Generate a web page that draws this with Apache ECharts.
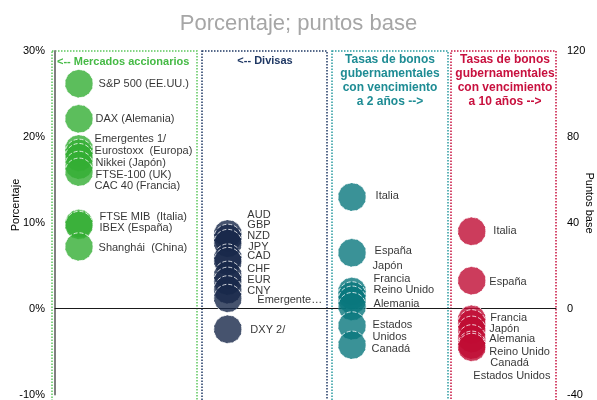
<!DOCTYPE html>
<html>
<head>
<meta charset="utf-8">
<title>Mercados</title>
<script src="https://cdn.jsdelivr.net/npm/echarts@6/dist/echarts.min.js"></script>
<style>
  html, body { margin: 0; padding: 0; background: #fff; }
  #main { width: 597px; height: 400px; }
</style>
</head>
<body>
<div id="main"></div>
<script>
// Mercados accionarios (%, eje izquierdo)
var stockNames = ['S&P 500 (EE.UU.)', 'DAX (Alemania)', 'Emergentes 1/', 'Eurostoxx  (Europa)', 'Nikkei (Japón)',
  'FTSE-100 (UK)', 'CAC 40 (Francia)', 'FTSE MIB  (Italia)', 'IBEX (España)', 'Shanghái  (China)'];
var stockValues = [26.2, 22.1, 18.6, 18.1, 17.6, 16.7, 15.9, 9.9, 9.7, 7.2];

// Divisas (%, eje izquierdo)
var fxNames = ['AUD', 'GBP', 'NZD', 'JPY', 'CAD', 'CHF', 'EUR', 'CNY', 'Emergente\u2026', 'DXY 2/'];
var fxValues = [8.7, 8.2, 7.6, 5.9, 5.5, 3.9, 3.2, 2.2, 1.2, -2.4];

// Bonos a 2 años (pb, eje derecho)
var bond2Names = ['Italia', 'España', 'Japón', 'Francia', 'Reino Unido', 'Alemania', 'Estados\nUnidos', 'Canadá'];
var bond2Values = [52, 26, 8, 6, 4, 1, -8, -17];

// Bonos a 10 años (pb, eje derecho)
var bond10Names = ['Italia', 'España', 'Francia', 'Japón', 'Alemania', 'Reino Unido', 'Canadá', 'Estados Unidos'];
var bond10Values = [36, 13, -5, -7, -10, -14, -17, -18];

// posiciones de las columnas y desplazamiento de etiquetas (solo maquetación)
var groupX = [4.8, 34.5, 59.3, 83.2];
var stockDx = [0, -3, -4, -4, -3, -3, -4, 1, 1, 0];
var stockDy = [0, 0, -10, -2, 5, 10, 14, -7, 3, 1];
var fxDx = [0, 0, 0, 1, 0, 0, 0, 0, 10, 3];
var fxDy = [-19, -13.5, -7.6, -11, -5, -6.5, -1.5, 1, 2, 1];
var b2Dx = [4, 3, 1, 2, 2, 2, 1, 0];
var b2Dy = [-1, -2, -25, -17, -10, -3, 5, 4];
var b10Dx = [2, -2, -1, -2, -2, -2, -1, -18];
var b10Dy = [0, 1, -1, 5, 8.5, 13, 18, 29];

var font = 'Liberation Sans, Arial, sans-serif';

function build(names, values, gx, dx, dy) {
  return names.map(function (n, i) {
    return { name: n, value: [gx, values[i]], label: { offset: [dx[i], dy[i]] } };
  });
}

function bubbles(data, color, yIdx) {
  return {
    type: 'scatter',
    yAxisIndex: yIdx,
    symbolSize: 28,
    data: data,
    itemStyle: { color: color, opacity: 0.8, borderColor: '#fff', borderWidth: 1, borderType: 'dashed' },
    label: {
      show: true, position: 'right', distance: 5, formatter: '{b}',
      color: '#000', fontSize: 11, lineHeight: 12, fontFamily: font
    },
    emphasis: { disabled: true }
  };
}

function box(x, w, color) {
  return {
    type: 'rect', z: 0, silent: true,
    shape: { x: x, y: 51, width: w, height: 360 },
    style: { fill: 'none', stroke: color, lineWidth: 1.5, lineDash: [1.5, 1.5] }
  };
}

function header(x, y, txt, color, size, align) {
  return {
    type: 'text', z: 5, x: x, y: y, silent: true,
    style: {
      text: txt, fill: color, font: 'bold ' + size + 'px ' + font,
      align: align, verticalAlign: 'top', lineHeight: 14
    }
  };
}

var chart = echarts.init(document.getElementById('main'));
chart.setOption({
  animation: false,
  backgroundColor: '#fff',
  title: {
    text: 'Porcentaje; puntos base', left: 'center', top: 8,
    textStyle: { color: '#A6A6A6', fontSize: 22, fontWeight: 'normal', fontFamily: font }
  },
  grid: { left: 55, right: 41, top: 51, bottom: 5 },
  xAxis: {
    type: 'value', min: 0, max: 100,
    axisLine: { show: true, onZero: true, lineStyle: { color: '#1a1a1a', width: 1 } },
    axisTick: { show: false }, axisLabel: { show: false }, splitLine: { show: false }
  },
  yAxis: [{
    type: 'value', min: -10, max: 30, interval: 10,
    axisLine: { show: true, lineStyle: { color: '#808080', width: 2 } },
    axisTick: { show: false }, splitLine: { show: false },
    axisLabel: { formatter: '{value}%', color: '#000', fontSize: 11, fontFamily: font, margin: 10 }
  }, {
    type: 'value', min: -40, max: 120, interval: 40, position: 'right',
    axisLine: { show: false }, axisTick: { show: false }, splitLine: { show: false },
    axisLabel: { color: '#000', fontSize: 11, fontFamily: font, margin: 11 }
  }],
  graphic: [
    box(52, 145, '#5CC65C'),
    box(202, 125, '#1F3864'),
    box(332, 116, '#2A9AA0'),
    box(451, 105, '#C8103E'),
    header(57, 55, '<-- Mercados accionarios', '#45BA45', 11, 'left'),
    header(265, 54, '<-- Divisas', '#1F3864', 11, 'center'),
    header(390, 53, 'Tasas de bonos\ngubernamentales\ncon vencimiento\na 2 años -->', '#1E8C94', 12, 'center'),
    header(505, 53, 'Tasas de bonos\ngubernamentales\ncon vencimiento\na 10 años -->', '#C8103E', 12, 'center'),
    {
      type: 'text', x: 16, y: 205, rotation: Math.PI / 2, silent: true,
      style: { text: 'Porcentaje', fill: '#000', font: '11px ' + font, align: 'center', verticalAlign: 'middle' }
    },
    {
      type: 'text', x: 589, y: 203, rotation: -Math.PI / 2, silent: true,
      style: { text: 'Puntos base', fill: '#000', font: '11px ' + font, align: 'center', verticalAlign: 'middle' }
    }
  ],
  series: [
    bubbles(build(stockNames, stockValues, groupX[0], stockDx, stockDy), '#33AE33', 0),
    bubbles(build(fxNames, fxValues, groupX[1], fxDx, fxDy), '#18284A', 0),
    bubbles(build(bond2Names, bond2Values, groupX[2], b2Dx, b2Dy), '#09777D', 1),
    bubbles(build(bond10Names, bond10Values, groupX[3], b10Dx, b10Dy), '#BF0B33', 1)
  ]
});
</script>
</body>
</html>
